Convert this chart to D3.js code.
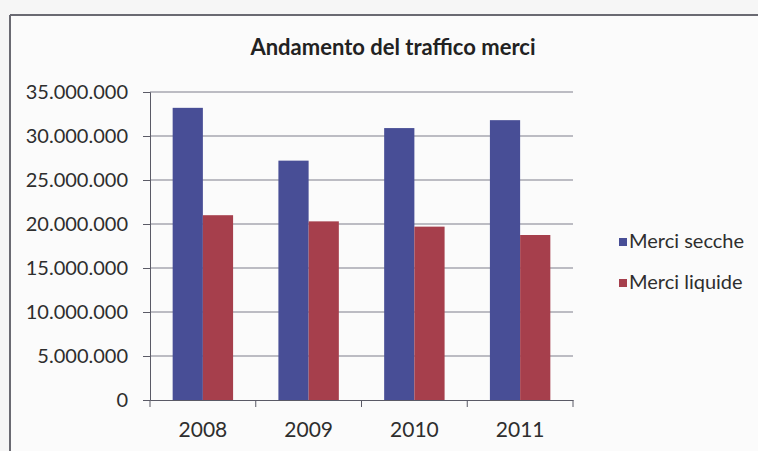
<!DOCTYPE html>
<html lang="it">
  <head>
    <meta charset="UTF-8" />
    <title>Andamento del traffico merci</title>
    <style>
      body {
        margin: 0;
        background: #f6f6f6;
        font-family: "Lato", "Open Sans", sans-serif;
      }
      .axis text {
        font-family: "Lato", sans-serif;
        fill: #2e2e2e;
      }
      .grid line {
        stroke: #7e7e8c;
        stroke-width: 1.2px;
      }
    </style>
  </head>
  <body>
    <div class="svg-container"></div>
    <script src="https://cdn.jsdelivr.net/npm/d3@7"></script>
    <script>
      // data
      var years = ["2008", "2009", "2010", "2011"];
      var seriesNames = ["Merci secche", "Merci liquide"];
      var merciSecche = [33200000, 27200000, 30900000, 31800000];
      var merciLiquide = [21000000, 20300000, 19700000, 18750000];
      var yTicks = [0, 5000000, 10000000, 15000000, 20000000, 25000000, 30000000, 35000000];
      var colors = ["#484e96", "#a63f4c"];

      var width = 758,
        height = 451;
      var margin = { top: 92, left: 150, right: 185, bottom: 51 };

      var svg = d3
        .select(".svg-container")
        .append("svg")
        .attr("width", width)
        .attr("height", height);

      // chart frame (only top and left edges are in the photo)
      svg.append("rect").attr("x", 10).attr("y", 15).attr("width", width).attr("height", height).attr("fill", "#fbfbfb");
      svg.append("line").attr("x1", 10).attr("x2", width).attr("y1", 15).attr("y2", 15).attr("stroke", "#6a6a72").attr("stroke-width", 2);
      svg.append("line").attr("x1", 10).attr("x2", 10).attr("y1", 15).attr("y2", height).attr("stroke", "#6a6a72").attr("stroke-width", 2);

      var x0 = d3.scaleBand().domain(years).range([margin.left, width - margin.right]);
      var x1 = d3.scaleBand().domain(seriesNames).range([0, x0.bandwidth()]).paddingOuter(0.75);
      var y = d3.scaleLinear().domain([0, 35000000]).range([height - margin.bottom, margin.top]);

      var itLocale = d3.formatLocale({ decimal: ",", thousands: ".", grouping: [3], currency: ["", " €"] });
      var fmt = itLocale.format(",");

      // gridlines
      svg
        .append("g")
        .attr("class", "grid")
        .selectAll("line")
        .data(yTicks.slice(1))
        .enter()
        .append("line")
        .attr("x1", margin.left)
        .attr("x2", width - margin.right)
        .attr("y1", (d) => y(d))
        .attr("y2", (d) => y(d));

      // bars
      var rows = years.map((yr, i) => ({ year: yr, values: [merciSecche[i], merciLiquide[i]] }));
      var groups = svg
        .selectAll(".year")
        .data(rows)
        .enter()
        .append("g")
        .attr("class", "year")
        .attr("transform", (d) => "translate(" + x0(d.year) + ",0)");

      groups
        .selectAll("rect")
        .data((d) => d.values.map((v, j) => ({ name: seriesNames[j], value: v, c: colors[j] })))
        .enter()
        .append("rect")
        .attr("x", (d) => x1(d.name))
        .attr("y", (d) => y(d.value))
        .attr("width", x1.bandwidth())
        .attr("height", (d) => y(0) - y(d.value))
        .attr("fill", (d) => d.c);

      // y axis
      var yAxis = svg
        .append("g")
        .attr("class", "axis")
        .attr("transform", "translate(" + margin.left + ",0)")
        .call(d3.axisLeft(y).tickValues(yTicks).tickFormat(fmt).tickSize(7).tickPadding(15));
      yAxis.select(".domain").attr("stroke", "#5a5a66");
      yAxis.selectAll(".tick line").attr("stroke", "#5a5a66");
      yAxis.selectAll("text").style("font-size", "20px");

      // x axis
      var xAxis = svg
        .append("g")
        .attr("class", "axis")
        .attr("transform", "translate(0," + y(0) + ")")
        .call(d3.axisBottom(x0).tickSize(0).tickPadding(22));
      xAxis.select(".domain").attr("stroke", "#5a5a66");
      xAxis.selectAll("text").style("font-size", "21px");

      // category separators on the x axis
      svg
        .append("g")
        .selectAll("line")
        .data(years.concat(["end"]))
        .enter()
        .append("line")
        .attr("x1", (d, i) => margin.left + i * x0.step())
        .attr("x2", (d, i) => margin.left + i * x0.step())
        .attr("y1", y(0))
        .attr("y2", y(0) + 7)
        .attr("stroke", "#5a5a66");

      // title
      svg
        .append("text")
        .attr("x", 393)
        .attr("y", 55)
        .attr("text-anchor", "middle")
        .style("font-size", "22px")
        .style("font-weight", "bold")
        .style("fill", "#222")
        .text("Andamento del traffico merci");

      // legend
      var legend = svg
        .selectAll(".legend")
        .data(seriesNames)
        .enter()
        .append("g")
        .attr("class", "legend")
        .attr("transform", (d, i) => "translate(619," + (238 + i * 41) + ")");

      legend
        .append("rect")
        .attr("width", 8)
        .attr("height", 8)
        .attr("fill", (d, i) => colors[i]);

      legend
        .append("text")
        .attr("x", 10)
        .attr("y", 10)
        .style("font-size", "20px")
        .style("fill", "#2e2e2e")
        .text((d) => d);
    </script>
  </body>
</html>
